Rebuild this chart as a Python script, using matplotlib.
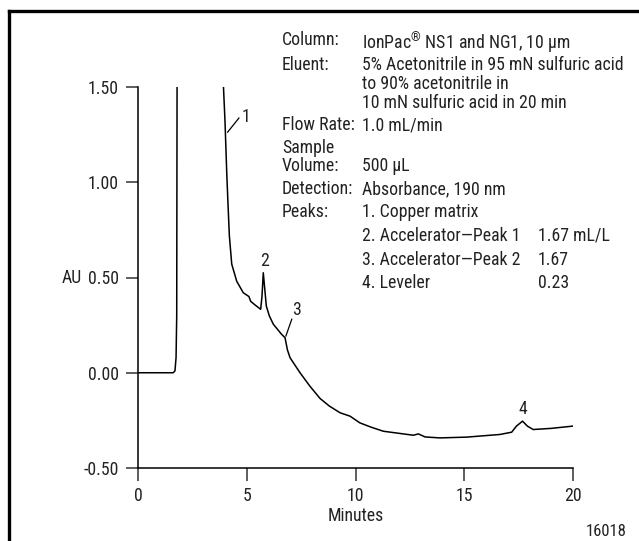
# Chromatogram of a copper plating bath: accelerator and leveler peaks

import matplotlib.pyplot as plt
from matplotlib import font_manager
from matplotlib.lines import Line2D

installed = {f.name for f in font_manager.fontManager.ttflist}
narrow = [n for n in ['Roboto Condensed', 'Archivo Narrow', 'PT Sans Narrow',
                      'Liberation Sans Narrow', 'Roboto'] if n in installed]
plt.rcParams['font.family'] = narrow[:1] + ['DejaVu Sans']
plt.rcParams['mathtext.fontset'] = 'custom'
plt.rcParams['mathtext.rm'] = (narrow[:1] or ['DejaVu Sans'])[0]

minutes = [0.0, 1.62, 1.70, 1.75, 1.78, 1.80, 3.90, 3.93, 4.00, 4.08, 4.14,
           4.20, 4.31, 4.54, 4.84, 5.10, 5.18, 5.38, 5.64, 5.70, 5.76, 5.82,
           5.90, 6.04, 6.22, 6.60, 6.76, 6.87, 6.99, 7.45, 7.90, 8.37, 8.80,
           9.29, 9.75, 10.2, 10.7, 11.28, 12.0, 12.66, 12.89, 13.2, 13.88,
           15.1, 16.64, 17.18, 17.4, 17.68, 17.9, 18.17, 19.0, 20.0]
au = [0.0, 0.0, 0.01, 0.08, 0.30, 1.80, 1.80, 1.50, 1.32, 1.05, 0.88,
      0.72, 0.57, 0.48, 0.42, 0.40, 0.375, 0.356, 0.333, 0.40, 0.525, 0.45,
      0.35, 0.298, 0.255, 0.202, 0.184, 0.12, 0.079, 0.0, -0.07, -0.135, -0.175,
      -0.21, -0.228, -0.263, -0.285, -0.307, -0.318, -0.328, -0.321, -0.337, -0.342,
      -0.338, -0.324, -0.312, -0.28, -0.254, -0.28, -0.298, -0.292, -0.28]

peak_labels = ['1', '2', '3', '4']
peak_label_pos = [(4.95, 1.342), (5.84, 0.588), (7.30, 0.33), (17.69, -0.191)]

info_labels = ['Column:', 'Eluent:', 'Flow Rate:', 'Sample', 'Volume:',
               'Detection:', 'Peaks:']
info_values = ['IonPac$^{\u00ae}$ NS1 and NG1, 10 \u00b5m',
               '5% Acetonitrile in 95 mN sulfuric acid',
               'to 90% acetonitrile in',
               '10 mN sulfuric acid in 20 min',
               '1.0 mL/min', '500 \u00b5L', 'Absorbance, 190 nm', '1. Copper matrix',
               '2. Accelerator\u2014Peak 1', '3. Accelerator\u2014Peak 2', '4. Leveler']
peak_conc = ['1.67 mL/L', '1.67', '0.23']

# row positions of the conditions table (pixels from top)
label_rows = [40, 65, 125, 148, 166, 189, 212]
value_rows = [40, 65, 84, 103, 125, 166, 189, 212, 236, 260, 283]
conc_rows = [236, 260, 283]

W, H = 639, 541
FS = 12.8
fig = plt.figure(figsize=(W / 100, H / 100), dpi=100)


def px(x, y):
    return x / W, 1 - y / H


# frame round the figure (only top and left edges fall inside the image)
fig.add_artist(Line2D([9 / W, 9 / W], [0, 1 - 11 / H], color='black', lw=2.4,
                      transform=fig.transFigure))
fig.add_artist(Line2D([9 / W, 1], [1 - 11 / H, 1 - 11 / H], color='black', lw=2.4,
                      transform=fig.transFigure))

ax = fig.add_axes([138 / W, 1 - 468 / H, (573 - 138) / W, (468 - 87) / H])
ax.plot(minutes, au, color='black', lw=1.1)
ax.set_xlim(0, 20)
ax.set_ylim(-0.5, 1.5)
ax.set_xticks([0, 5, 10, 15, 20])
ax.set_yticks([-0.5, 0.0, 0.5, 1.0, 1.5])
ax.set_yticklabels(['-0.50', '0.00', '0.50', '1.00', '1.50'])
for side in ['top', 'right']:
    ax.spines[side].set_visible(False)
for side in ['left', 'bottom']:
    ax.spines[side].set_linewidth(1.1)
ax.tick_params(direction='out', length=9, width=1.1, labelsize=FS,
               color='#333333', labelcolor='#222222')
ax.tick_params(axis='x', pad=5)
ax.tick_params(axis='y', pad=5)
ax.patch.set_alpha(0)
ax.set_xlabel('Minutes', fontsize=FS, labelpad=1, color='#222222')
fig.text(*px(72, 278), 'AU', fontsize=FS, ha='center', va='center', color='#222222')
fig.text(*px(627, 531), '16018', fontsize=12, ha='right', va='center', color='#222222')

# peak numbers with leader lines
for lab, (x, y) in zip(peak_labels, peak_label_pos):
    ax.text(x, y, lab, fontsize=FS, ha='center', va='center', color='#222222')
ax.plot([4.12, 4.64], [1.263, 1.337], color='black', lw=0.9)
ax.plot([6.80, 7.07], [0.193, 0.281], color='black', lw=0.9)

# method conditions
for lab, y in zip(info_labels, label_rows):
    fig.text(*px(282, y), lab, fontsize=FS, va='center', color='#222222')
for val, y in zip(info_values, value_rows):
    fig.text(*px(362, y), val, fontsize=FS, va='center_baseline' if '$' in val else 'center',
             color='#222222')
for conc, y in zip(peak_conc, conc_rows):
    fig.text(*px(538, y), conc, fontsize=FS, va='center', color='#222222')

fig.savefig('out.png', dpi=100)
